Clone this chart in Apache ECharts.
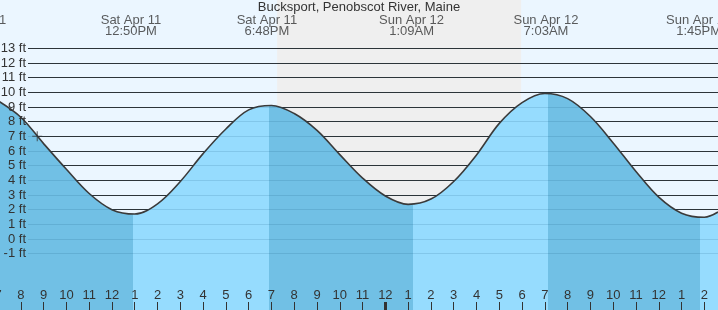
<!DOCTYPE html>
<html>
<head>
<meta charset="utf-8">
<script src="https://cdn.jsdelivr.net/npm/echarts@6/dist/echarts.min.js"></script>
<style>
html,body{margin:0;padding:0;background:#ebf6ff;}
#chart{width:718px;height:310px;}
</style>
</head>
<body>
<div id="chart"></div>
<script>
// ---- data (hours since Sat Apr 11 00:00, water level in ft) ----
var title = 'Bucksport, Penobscot River, Maine';
var tideHours = [7, 8, 9, 10, 11, 12, 13, 14, 15, 16, 17, 18, 19, 20, 21, 22, 23, 24, 25, 26, 27, 28, 29, 30, 31, 32, 33, 34, 35, 36, 37, 38, 38.6];
var tideFeet  = [9.42, 8.3, 6.5, 4.75, 3.1, 2.0, 1.70, 2.4, 3.92, 5.82, 7.5, 8.8, 9.1, 8.55, 7.4, 5.75, 4.15, 2.93, 2.36, 2.72, 3.92, 5.73, 7.88, 9.3, 9.92, 9.57, 8.35, 6.55, 4.6, 2.85, 1.76, 1.48, 1.84];
var eventHours = [6.03, 12.833, 18.8, 25.15, 31.05, 37.75];
var eventDay   = ['Sat Apr 11', 'Sat Apr 11', 'Sat Apr 11', 'Sun Apr 12', 'Sun Apr 12', 'Sun Apr 12'];
var eventTime  = ['6:02AM', '12:50PM', '6:48PM', '1:09AM', '7:03AM', '1:45PM'];
var turnHours  = [12.94, 18.89, 25.2, 31.14, 37.8]; // fill colour changes (low/high turns)
var nightStart = 19.25, nightEnd = 29.96;
var nowHour = 8.72, nowFeet = 7.0;
var hourTicks = [7, 8, 9, 10, 11, 12, 13, 14, 15, 16, 17, 18, 19, 20, 21, 22, 23, 24, 25, 26, 27, 28, 29, 30, 31, 32, 33, 34, 35, 36, 37, 38];
var midnightTicks = [24];
var ftMin = -1, ftMax = 13;

// ---- styles ----
var FONT = 'Liberation Sans';
var TXT = '#333';
var DARK = '#71c0e5', LIGHT = '#96dcfe';
var xMin = 7, xMax = 38.6;
var yTopMax = 16.29, yTopMin = -4.84; // full-height axis for grid 0
var labelRowY = 14.54;

var pieces = [];
var bounds = [-Infinity].concat(turnHours, [Infinity]);
for (var i = 0; i < bounds.length - 1; i++) {
  var p = { color: (i % 2 === 0) ? DARK : LIGHT };
  if (bounds[i] !== -Infinity) p.gte = bounds[i];
  if (bounds[i + 1] !== Infinity) p.lt = bounds[i + 1];
  pieces.push(p);
}

var tideData = tideHours.map(function (t, i) { return [t, tideFeet[i]]; });
var eventData = eventHours.map(function (t, i) { return { value: [t, labelRowY], day: eventDay[i], time: eventTime[i] }; });

var chart = echarts.init(document.getElementById('chart'), null, { renderer: 'canvas' });
chart.setOption({
  animation: false,
  backgroundColor: '#ebf6ff',
  textStyle: { fontFamily: FONT },
  title: {
    text: title, left: 'center', top: 1, padding: 0,
    textStyle: { fontSize: 13, fontWeight: 'normal', color: TXT, fontFamily: FONT }
  },
  grid: [
    { left: -1.96, right: 0, top: 0, bottom: 0, containLabel: false, outerBoundsMode: 'none' },
    { left: 28, right: 0, top: 48.26, height: 205.4, containLabel: false, outerBoundsMode: 'none' }
  ],
  xAxis: [
    {
      gridIndex: 0, type: 'value', min: xMin, max: xMax, position: 'bottom', z: 10,
      axisLine: { show: false, onZero: false }, splitLine: { show: false },
      axisTick: { show: true, inside: true, length: 8, customValues: hourTicks, lineStyle: { color: TXT, width: 1 } },
      axisLabel: {
        show: true, inside: true, margin: 8, customValues: hourTicks,
        color: TXT, fontSize: 13, fontFamily: FONT,
        formatter: function (v) { var r = Math.round(v) % 12; return String(r === 0 ? 12 : r); }
      }
    },
    { gridIndex: 1, type: 'value', min: 0, max: 1, show: false, axisLine: { onZero: false } },
    {
      gridIndex: 0, type: 'value', min: xMin, max: xMax, position: 'bottom', z: 10,
      axisLine: { show: false, onZero: false }, splitLine: { show: false }, axisLabel: { show: false },
      axisTick: { show: true, inside: true, length: 8, customValues: midnightTicks, lineStyle: { color: TXT, width: 3 } }
    }
  ],
  yAxis: [
    { gridIndex: 0, type: 'value', min: yTopMin, max: yTopMax, show: false, position: 'left', axisLine: { onZero: false } },
    {
      gridIndex: 1, type: 'value', min: ftMin, max: ftMax, interval: 1, z: 1.5, position: 'left',
      axisLine: { show: false, onZero: false }, axisTick: { show: false }, axisLabel: { show: false },
      splitLine: { show: true, lineStyle: { color: '#333', width: 1 } }
    },
    {
      gridIndex: 1, type: 'value', min: ftMin, max: ftMax, interval: 1, z: 10, position: 'left', offset: 0,
      axisLine: { show: false, onZero: false }, axisTick: { show: false },
      splitLine: { show: true, lineStyle: { color: 'rgba(0,60,100,0.13)', width: 1 } },
      axisLabel: { show: true, margin: 2, color: TXT, fontSize: 13, fontFamily: FONT, formatter: '{value} ft' }
    }
  ],
  visualMap: {
    show: false, type: 'piecewise', dimension: 0, seriesIndex: 0, pieces: pieces
  },
  series: [
    {
      type: 'line', xAxisIndex: 0, yAxisIndex: 0, z: 2,
      data: tideData, smooth: 0.35, showSymbol: false, symbol: 'none',
      lineStyle: { color: '#3a3a3a', width: 1.6 },
      areaStyle: { opacity: 1, origin: 'start' },
      markArea: {
        silent: true, z: 1,
        itemStyle: { color: '#efefef', borderWidth: 0 },
        data: [[{ xAxis: nightStart }, { xAxis: nightEnd }]]
      }
    },
    {
      type: 'scatter', xAxisIndex: 0, yAxisIndex: 0, z: 5, clip: false, silent: true,
      symbolSize: 0, data: eventData,
      label: {
        show: true, position: 'inside', color: TXT, fontSize: 13, fontFamily: FONT, lineHeight: 11.5,
        formatter: function (p) { return p.data.day + '\n' + p.data.time; }
      }
    },
    {
      type: 'scatter', xAxisIndex: 0, yAxisIndex: 0, z: 6, clip: false, silent: true,
      symbol: 'path://M4.5,0h1v10h-1zM0,4.5h10v1h-10z', symbolSize: 10,
      itemStyle: { color: '#333' },
      data: [[nowHour, nowFeet]]
    }
  ]
});
</script>
</body>
</html>
